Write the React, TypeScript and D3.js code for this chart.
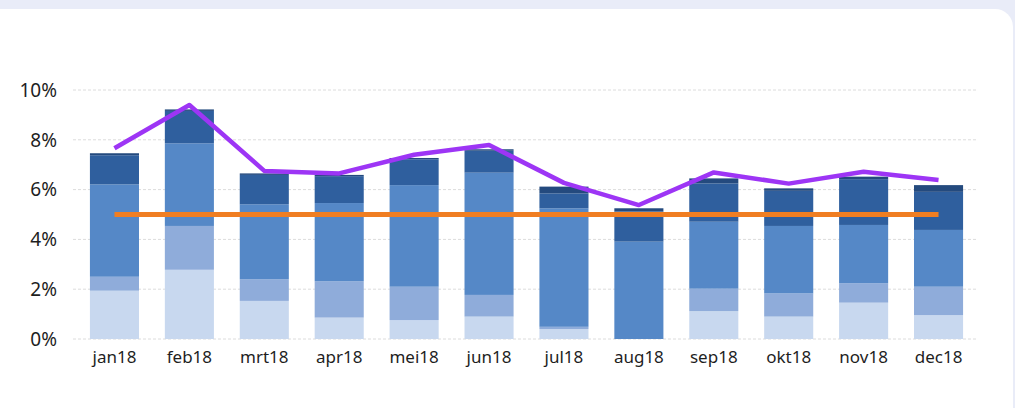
import { useRef, useEffect } from "react";
import * as d3 from "d3";

const months = ["jan18", "feb18", "mrt18", "apr18", "mei18", "jun18", "jul18", "aug18", "sep18", "okt18", "nov18", "dec18"];
const seriesKeys = ["s1", "s2", "s3", "s4", "s5"];
const s1 = [1.94, 2.78, 1.53, 0.86, 0.76, 0.9, 0.4, 0, 1.12, 0.9, 1.46, 0.96];
const s2 = [0.56, 1.76, 0.87, 1.46, 1.34, 0.87, 0.09, 0, 0.9, 0.93, 0.78, 1.14];
const s3 = [3.71, 3.32, 3.01, 3.14, 4.08, 4.91, 4.76, 3.91, 2.69, 2.71, 2.34, 2.28];
const s4 = [1.17, 1.3, 1.18, 1.08, 1.04, 0.88, 0.6, 1.21, 1.54, 1.41, 1.84, 1.53];
const s5 = [0.08, 0.06, 0.06, 0.05, 0.05, 0.06, 0.27, 0.13, 0.2, 0.1, 0.1, 0.27];
const purpleLine = [7.66, 9.4, 6.75, 6.65, 7.4, 7.79, 6.27, 5.38, 6.69, 6.24, 6.72, 6.39];
const target = 5;
const yTicks = [0, 2, 4, 6, 8, 10];

const colors = ["#c8d8ef", "#8facda", "#5588c7", "#2f5f9e", "#244a7e"];
const font = "'Noto Sans', 'Open Sans', sans-serif";

const App = () => {
  const svgRef = useRef<SVGSVGElement>(null);
  const width = 1015;
  const height = 408;

  useEffect(() => {
    if (!svgRef.current) return;
    const svg = d3.select(svgRef.current);
    svg.selectAll("*").remove();

    // page background + card
    svg.append("rect").attr("width", width).attr("height", height).attr("fill", "#e9ecf8");
    svg
      .append("rect")
      .attr("x", -40)
      .attr("y", 9)
      .attr("width", width + 38)
      .attr("height", height + 40)
      .attr("rx", 18)
      .attr("fill", "#ffffff");

    const rows = months.map((m, i) => ({
      month: m,
      s1: s1[i],
      s2: s2[i],
      s3: s3[i],
      s4: s4[i],
      s5: s5[i],
    }));

    const xScale = d3.scaleBand().domain(months).range([77, 976]).paddingInner(0.345).paddingOuter(0.1725);
    const yScale = d3.scaleLinear().domain([0, 10]).range([339, 90]);

    // grid
    svg
      .append("g")
      .selectAll("line")
      .data(yTicks)
      .join("line")
      .attr("x1", 73)
      .attr("x2", 977)
      .attr("y1", (d) => yScale(d))
      .attr("y2", (d) => yScale(d))
      .attr("stroke", "#dcdcdc")
      .attr("stroke-width", 1)
      .attr("stroke-dasharray", "3,2");

    // y labels
    svg
      .append("g")
      .selectAll("text")
      .data(yTicks)
      .join("text")
      .attr("x", 57)
      .attr("y", (d) => yScale(d))
      .attr("dy", "0.36em")
      .attr("text-anchor", "end")
      .attr("font-family", font)
      .attr("font-size", 19)
      .attr("fill", "#1e1e1e")
      .text((d) => d + "%");

    // stacked bars
    const stacked = d3.stack<any>().keys(seriesKeys)(rows);
    svg
      .append("g")
      .selectAll("g")
      .data(stacked)
      .join("g")
      .attr("fill", (_, i) => colors[i])
      .selectAll("rect")
      .data((d) => d)
      .join("rect")
      .attr("x", (d) => xScale(d.data.month)!)
      .attr("width", xScale.bandwidth())
      .attr("y", (d) => yScale(d[1]))
      .attr("height", (d) => yScale(d[0]) - yScale(d[1]));

    const cx = (m: string) => xScale(m)! + xScale.bandwidth() / 2;

    // target line
    svg
      .append("line")
      .attr("x1", cx(months[0]))
      .attr("x2", cx(months[months.length - 1]))
      .attr("y1", yScale(target))
      .attr("y2", yScale(target))
      .attr("stroke", "#f07e22")
      .attr("stroke-width", 5);

    // purple line
    const line = d3
      .line<number>()
      .x((_, i) => cx(months[i]))
      .y((d) => yScale(d));
    svg
      .append("path")
      .attr("d", line(purpleLine))
      .attr("fill", "none")
      .attr("stroke", "#9d35f5")
      .attr("stroke-width", 4.5)
      .attr("stroke-linejoin", "round");

    // x labels
    svg
      .append("g")
      .selectAll("text")
      .data(months)
      .join("text")
      .attr("x", (d) => cx(d))
      .attr("y", 363)
      .attr("text-anchor", "middle")
      .attr("font-family", font)
      .attr("font-size", 17)
      .attr("fill", "#1e1e1e")
      .text((d) => d);
  }, []);

  return (
    <div style={{ position: "absolute", top: 0, left: 0 }}>
      <svg ref={svgRef} width={width} height={height} style={{ display: "block" }}></svg>
    </div>
  );
};

export default App;
